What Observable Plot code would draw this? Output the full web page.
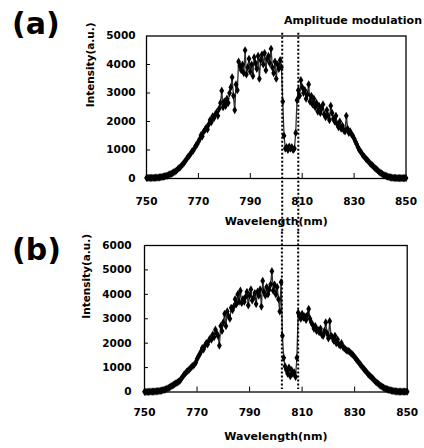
<!DOCTYPE html>
<html><head><meta charset="utf-8">
<script src="https://cdn.jsdelivr.net/npm/d3@7"></script>
<script src="https://cdn.jsdelivr.net/npm/@observablehq/plot@0.6"></script>
<style>
body{margin:0;background:#fff;}
#wrap{position:relative;width:424px;height:448px;font-family:"DejaVu Sans",sans-serif;font-weight:bold;color:#000;overflow:hidden}
.lbl{position:absolute;white-space:nowrap;line-height:1}
#pa,#pb{position:absolute;left:0}
</style></head><body>
<div id="wrap">
 <div id="pa" style="top:0"></div>
 <div id="pb" style="top:232px"></div>
 <div class="lbl" style="left:12px;top:9px;font-size:30px">(a)</div>
 <div class="lbl" style="left:12px;top:235px;font-size:30px">(b)</div>
 <div class="lbl" style="left:284px;top:15px;font-size:11px">Amplitude modulation</div>
</div>
<script>
// wavelength grid (nm), 0.5 nm step
const wavelength = d3.range(750, 850.001, 0.5);
const xTicks = [750, 770, 790, 810, 830, 850];
const yTicksA = [0, 1000, 2000, 3000, 4000, 5000];
const yTicksB = [0, 1000, 2000, 3000, 4000, 5000, 6000];
const modulationEdges = [802.3, 808.5];

// (a) intensity, a.u.
const intensityA = [
20,20,20,20,20,25,25,30,30,35,
40,45,55,65,75,90,105,125,145,165,
190,215,245,280,320,360,400,450,500,560,
620,690,760,800,870,940,980,1060,1150,1200,
1290,1380,1520,1480,1640,1700,1780,1720,1900,2050,
1980,2180,2120,2250,2320,2200,2450,2650,3080,2500,
2700,2550,2800,2650,3000,3200,3550,2900,2400,3300,
3100,4100,3950,3800,4000,3700,4500,3650,3900,4200,
3750,4000,3600,4250,4050,3850,4300,3500,4150,4350,
4000,4400,3800,4200,4300,4050,4550,3900,3700,4100,
3500,4000,3850,4150,3900,2700,1500,1050,1100,1000,
1120,1050,1100,1000,1050,1600,2750,3100,2900,3450,
3200,3000,3100,2800,2950,3300,2700,2900,2600,2800,
2500,2650,2350,2550,2300,2450,2600,2250,2150,2400,
2200,2050,2550,2300,2100,2000,2200,1900,1800,2000,
1750,1850,1700,1650,2200,1750,1600,1650,1550,1500,
1400,1300,1200,1100,1000,950,870,800,760,700,
650,600,550,500,460,420,370,330,290,250,
210,180,150,120,100,80,65,50,40,30,
25,20,20,15,15,15,15,15,15,15,
15];

// (b) intensity, a.u.
const intensityB = [
10,10,10,10,15,15,20,20,25,30,
35,40,50,60,75,90,110,130,160,190,
225,260,290,320,360,390,420,470,540,620,
700,760,820,870,920,980,1030,1080,1130,1200,
1350,1450,1550,1650,1800,1750,1900,2000,1950,2100,
2200,2150,2350,2250,2550,2400,2300,1900,2700,2500,
2850,3200,2700,3300,3100,3000,3450,3350,3500,3800,
3600,4000,3700,4150,3650,3800,3700,3900,4100,3550,
3950,4200,3750,3850,4050,3600,4100,3950,4200,3500,
4550,4100,3950,4300,4000,4200,4400,4950,4150,4400,
4000,4300,3800,3300,4500,2300,1400,1050,900,750,
1000,650,900,750,800,620,1400,3250,3100,3000,
3200,3050,3100,2950,3150,3400,3000,2850,2750,2600,
2700,2500,2550,2450,2600,2350,2300,2500,2850,2400,
2200,2900,2300,2250,2100,2300,2000,2150,1950,1900,
2000,1850,1800,1750,1700,1680,1650,1600,1550,1500,
1430,1360,1290,1220,1150,1080,1010,950,880,820,
750,690,640,600,540,480,420,380,330,290,
250,210,180,150,130,110,90,75,60,50,
40,30,25,20,15,15,15,15,15,15,
15];

function panel(o) {
  const data = wavelength.map((w, i) => ({w, v: o.values[i]}));
  return Plot.plot({
    width: 424, height: o.height,
    marginTop: o.mt, marginBottom: o.mb, marginLeft: o.ml, marginRight: o.mr,
    style: {background: "transparent", overflow: "visible", fontFamily: "DejaVu Sans", fontWeight: "bold", fontSize: "10.5px", color: "#000"},
    x: {domain: [750, 850]},
    y: {domain: [0, o.yMax]},
    marks: [
      Plot.axisX(xTicks, {tickSize: 0, tickPadding: o.xPad, label: null, tickFormat: d => String(d)}),
      Plot.axisX(xTicks.slice(1, -1), {tickSize: -5, tickFormat: () => "", label: null}),
      Plot.axisY(o.yTicks, {tickSize: 0, tickPadding: o.yPad, label: null, tickFormat: d => String(d)}),
      Plot.axisY(o.yTicks.slice(1, -1), {tickSize: -4, tickFormat: () => "", label: null}),
      Plot.line(data, {x: "w", y: "v", stroke: "#333", strokeWidth: 1.3}),
      Plot.dot(data, {x: "w", y: "v", symbol: "diamond", r: 2.5, fill: "#000"}),
      Plot.frame({stroke: "#000", strokeWidth: 1.3}),
      Plot.ruleX(modulationEdges, {y1: o.ruleTop, y2: o.ruleBottom, stroke: "#000", strokeWidth: 2, strokeDasharray: "2 2"}),
      Plot.text(["Intensity(a.u.)"], {frameAnchor: "left", rotate: -90, dx: o.ylDx, fontSize: 10.5, fill: "#000"}),
      Plot.text(["Wavelength(nm)"], {frameAnchor: "bottom", dy: o.xlDy, fontSize: 11, fill: "#000"})
    ]
  });
}

document.getElementById("pa").append(panel({
  values: intensityA, yMax: 5000, yTicks: yTicksA, height: 232,
  mt: 35.5, mb: 54, ml: 146, mr: 18.5, xPad: 19, yPad: 11,
  ruleTop: 5100, ruleBottom: -1950, ylDx: -56, xlDy: 46
}));
document.getElementById("pb").append(panel({
  values: intensityB, yMax: 6000, yTicks: yTicksB, height: 216,
  mt: 13, mb: 56.5, ml: 144, mr: 17.3, xPad: 17, yPad: 13,
  ruleTop: 6550, ruleBottom: 100, ylDx: -58, xlDy: 47.5
}));
</script>
</body></html>
